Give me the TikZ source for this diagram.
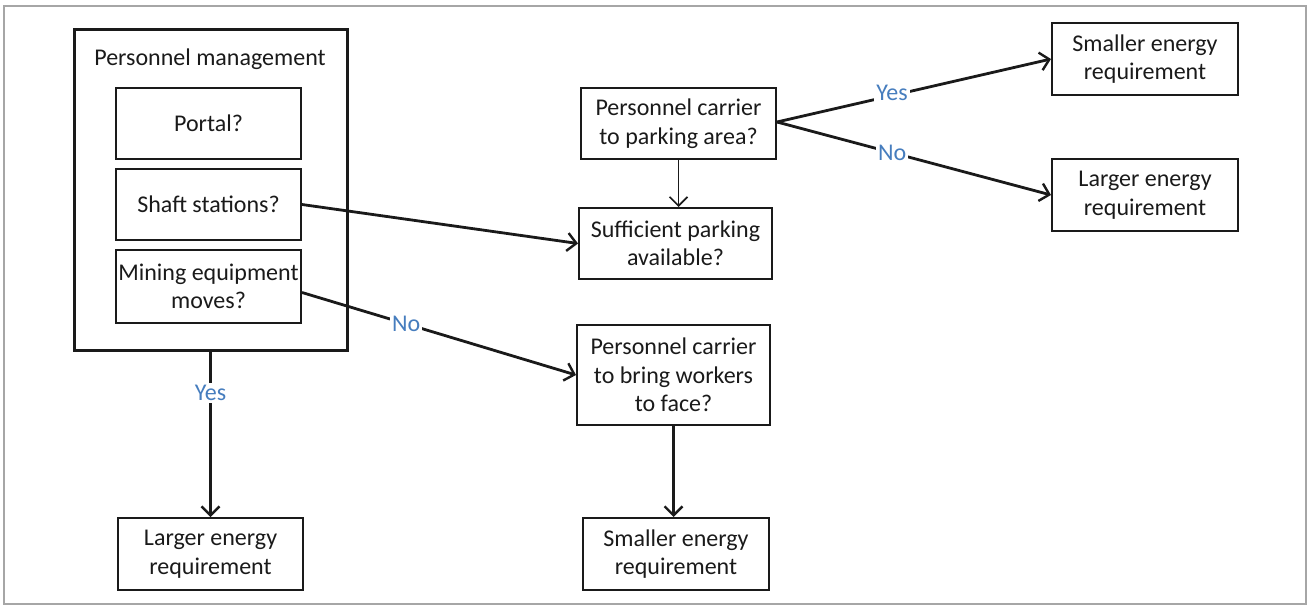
\documentclass[tikz,border=0pt]{standalone}
\usepackage{fontspec}
\setmainfont{Carlito}
\usetikzlibrary{arrows.meta}
\definecolor{labelblue}{RGB}{70,125,190}
\definecolor{inkgray}{RGB}{26,26,26}
\begin{document}
\begin{tikzpicture}[x=1pt,y=-1pt,
  every node/.style={font=\fontsize{24}{28.5}\selectfont, text=inkgray},
  box/.style={draw=inkgray, line width=2pt, align=center, inner sep=0pt},
  conn/.style={draw=inkgray, line width=2.8pt, -{Straight Barb[length=9pt,width=18pt,line width=2.4pt]}},
  thinconn/.style={draw=inkgray, line width=1.6pt, -{Straight Barb[length=9pt,width=18pt,line width=1.6pt]}},
  lbl/.style={fill=white, text=labelblue, inner sep=2pt}]
  % page frame
  \useasboundingbox (0,0) rectangle (1309,605);
  \draw[gray!70, line width=1.2pt] (4,6) rectangle (1306,604);

  % personnel management group
  \node[box, line width=3pt, minimum width=273pt, minimum height=321pt] (pm) at (210.5,189.5) {};
  \node (pmtitle) at (210,59) {Personnel management};
  \node[box, minimum width=185pt, minimum height=71pt] (portal) at (208.5,123.5) {Portal?};
  \node[box, minimum width=185pt, minimum height=71pt] (shaft) at (208.5,204.5) {Shaft stations?};
  \node[box, minimum width=185pt, minimum height=73pt] (mining) at (208.5,286.5) {Mining equipment\\moves?};

  % parking branch
  \node[box, minimum width=195pt, minimum height=71pt] (pcp) at (678.5,123.5) {Personnel carrier\\to parking area?};
  \node[box, minimum width=193pt, minimum height=71pt] (suff) at (675.5,243.5) {Sufficient parking\\available?};
  \node[box, minimum width=186pt, minimum height=72pt] (smallA) at (1145,59) {Smaller energy\\requirement};
  \node[box, minimum width=186pt, minimum height=72pt] (largeA) at (1145,195) {Larger energy\\requirement};

  % face branch
  \node[box, minimum width=193pt, minimum height=100pt] (face) at (673.5,375) {Personnel carrier\\to bring workers\\to face?};
  \node[box, minimum width=185pt, minimum height=72pt] (largeB) at (210.5,554) {Larger energy\\requirement};
  \node[box, minimum width=186pt, minimum height=72pt] (smallB) at (676,554) {Smaller energy\\requirement};

  % connectors
  \draw[conn] (pm.south) -- node[lbl, pos=0.25] {Yes} (largeB.north);
  \draw[conn] ([yshift=-6pt]mining.east) -- node[lbl, pos=0.38] {No} (face.west);
  \draw[conn] (shaft.east) -- (suff.west);
  \draw[thinconn] (pcp.south) -- (pcp.south |- suff.north);
  \draw[conn] ([yshift=1.5pt]pcp.east) -- node[lbl, pos=0.42, yshift=3pt] {Yes} (smallA.west);
  \draw[conn] ([yshift=1.5pt]pcp.east) -- node[lbl, pos=0.42] {No} (largeA.west);
  \draw[conn] (face.south) -- (face.south |- smallB.north);
\end{tikzpicture}
\end{document}
